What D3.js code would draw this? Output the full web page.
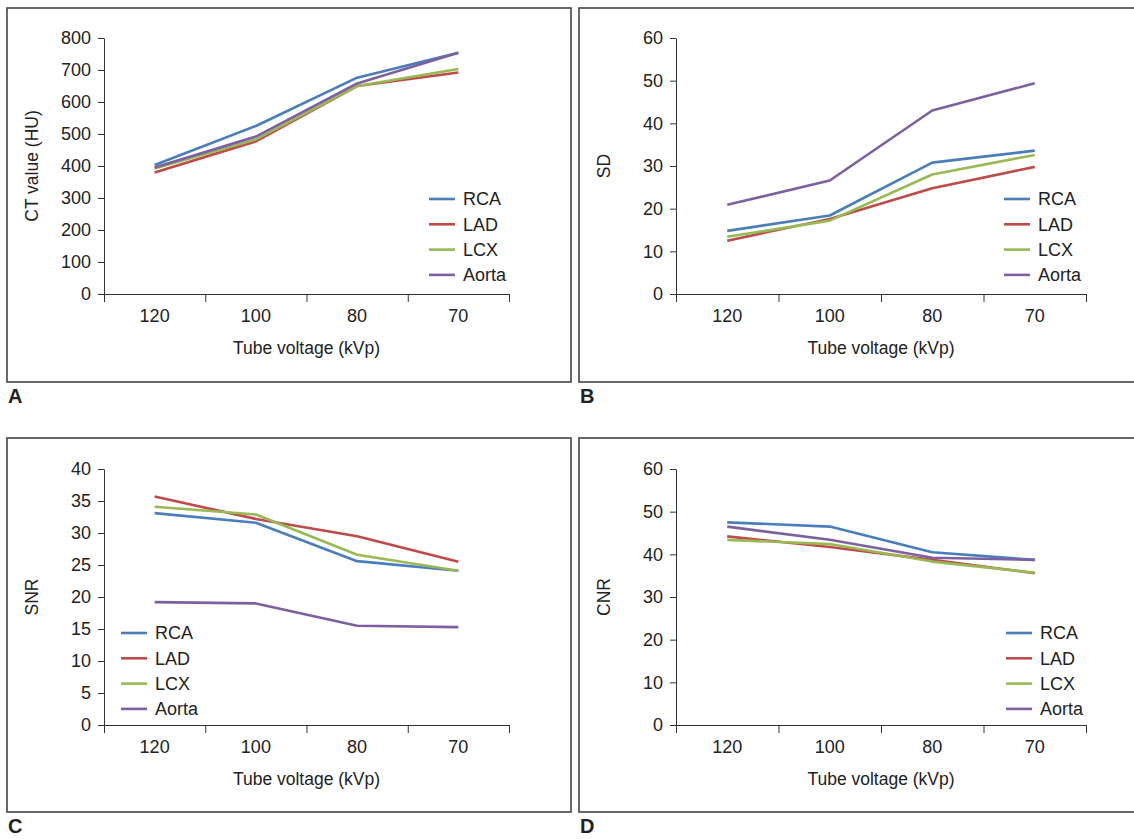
<!DOCTYPE html>
<html>
<head>
<meta charset="utf-8">
<script src="https://cdn.jsdelivr.net/npm/d3@7"></script>
<style>
  body { margin: 0; background: #fff; }
  svg { font-family: "Liberation Sans", Arial, sans-serif; }
  .axis text { font-size: 18px; fill: #222; }
  .axis path, .axis line { stroke: #333; }
</style>
</head>
<body>
<svg width="1134" height="839"></svg>
<script>
// tube voltage categories (kVp)
var categories = ["120", "100", "80", "70"];
var seriesNames = ["RCA", "LAD", "LCX", "Aorta"];
var seriesColors = ["#4a7ebb", "#be4b48", "#98b954", "#7d60a0"];

// values per series, in seriesNames order
var ctValues = [
    [403, 525, 676, 754],
    [380, 477, 650, 692],
    [392, 483, 650, 703],
    [395, 492, 658, 754]
];
var sdValues = [
    [14.8, 18.4, 30.8, 33.6],
    [12.5, 17.6, 24.8, 29.8],
    [13.4, 17.2, 28.0, 32.6],
    [20.9, 26.6, 43.0, 49.4]
];
var snrValues = [
    [33.1, 31.6, 25.6, 24.1],
    [35.7, 32.2, 29.5, 25.5],
    [34.1, 32.9, 26.6, 24.1],
    [19.2, 19.0, 15.5, 15.3]
];
var cnrValues = [
    [47.5, 46.5, 40.5, 38.7],
    [44.2, 41.7, 38.7, 35.6],
    [43.4, 42.4, 38.3, 35.7],
    [46.5, 43.4, 39.2, 38.7]
];

var ctTicks = [0, 100, 200, 300, 400, 500, 600, 700, 800];
var sdTicks = [0, 10, 20, 30, 40, 50, 60];
var snrTicks = [0, 5, 10, 15, 20, 25, 30, 35, 40];
var cnrTicks = [0, 10, 20, 30, 40, 50, 60];

var panels = [
    {label: "A", ytitle: "CT value (HU)", data: ctValues, ticks: ctTicks,
     fx: 7, fy: 8, fw: 564, pw: 405, legX: 325, legY: 161},
    {label: "B", ytitle: "SD", data: sdValues, ticks: sdTicks,
     fx: 579, fy: 8, fw: 570, pw: 410, legX: 328, legY: 161},
    {label: "C", ytitle: "SNR", data: snrValues, ticks: snrTicks,
     fx: 7, fy: 438, fw: 564, pw: 405, legX: 17, legY: 164},
    {label: "D", ytitle: "CNR", data: cnrValues, ticks: cnrTicks,
     fx: 579, fy: 438, fw: 570, pw: 410, legX: 330, legY: 164}
];

var svg = d3.select("svg");
var frameH = 374, plotH = 256;

panels.forEach(function (p) {
    var g = svg.append("g");

    // frame
    g.append("rect")
        .attr("x", p.fx).attr("y", p.fy)
        .attr("width", p.fw).attr("height", frameH)
        .attr("fill", "none").attr("stroke", "#444").attr("stroke-width", 1.6);

    g.append("text")
        .attr("x", p.fx + 1).attr("y", p.fy + frameH + 21)
        .attr("font-size", 20).attr("font-weight", "bold").attr("fill", "#222")
        .text(p.label);

    var left = p.fx + 97, top = p.fy + 30 + (p.fy > 100 ? 1 : 0);
    var plot = g.append("g").attr("transform", "translate(" + left + "," + top + ")");

    var x = d3.scaleBand().domain(categories).range([0, p.pw]).padding(0);
    var xb = d3.scaleLinear().domain([0, categories.length]).range([0, p.pw]);
    var y = d3.scaleLinear().domain([0, d3.max(p.ticks)]).range([plotH, 0]);

    plot.append("g").attr("class", "axis")
        .call(d3.axisLeft(y).tickValues(p.ticks).tickSize(6).tickPadding(7).tickSizeOuter(0));

    // tick marks between categories
    plot.append("g").attr("class", "axis")
        .attr("transform", "translate(0," + plotH + ")")
        .call(d3.axisBottom(xb).tickValues(d3.range(categories.length + 1))
            .tickSize(8).tickSizeOuter(0).tickFormat(""));
    plot.append("g").attr("class", "axis")
        .attr("transform", "translate(0," + plotH + ")")
        .call(d3.axisBottom(x).tickSize(0).tickPadding(15))
        .select(".domain").remove();

    plot.append("text")
        .attr("x", p.pw / 2).attr("y", plotH + 60)
        .attr("text-anchor", "middle").attr("font-size", 17.5).attr("fill", "#222")
        .text("Tube voltage (kVp)");

    plot.append("text")
        .attr("transform", "translate(-72," + plotH / 2 + ") rotate(-90)")
        .attr("text-anchor", "middle").attr("dy", "0.35em")
        .attr("font-size", 17.5).attr("fill", "#222")
        .text(p.ytitle);

    var line = d3.line()
        .x(function (d, i) { return x(categories[i]) + x.bandwidth() / 2; })
        .y(function (d) { return y(d); });

    p.data.forEach(function (vals, s) {
        plot.append("path")
            .datum(vals)
            .attr("d", line)
            .attr("fill", "none")
            .attr("stroke", seriesColors[s])
            .attr("stroke-width", 2.6)
            .attr("stroke-linejoin", "round");
    });

    // legend
    var leg = plot.append("g").attr("transform", "translate(" + p.legX + "," + p.legY + ")");
    seriesNames.forEach(function (name, s) {
        var row = leg.append("g").attr("transform", "translate(0," + (s * 25.3) + ")");
        row.append("line")
            .attr("x1", 0).attr("x2", 26)
            .attr("stroke", seriesColors[s]).attr("stroke-width", 2.6);
        row.append("text")
            .attr("x", 34).attr("dy", "0.35em")
            .attr("font-size", 18).attr("fill", "#222")
            .text(name);
    });
});
</script>
</body>
</html>
